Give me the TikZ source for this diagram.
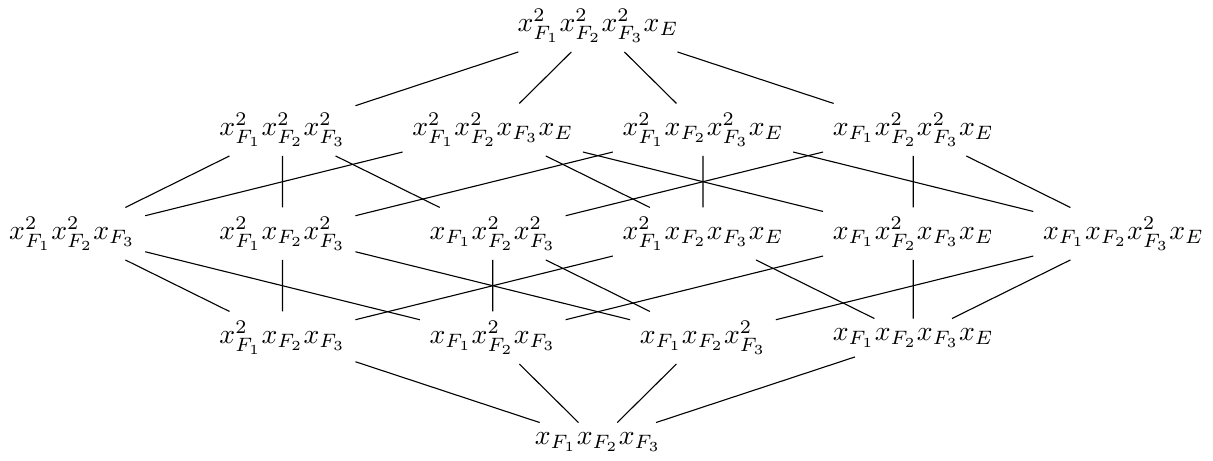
\documentclass[tikz,border=0pt]{standalone}
\usepackage{amsmath,amssymb}
\usepackage{tikz}

\begin{document}
\begin{tikzpicture}[x=2.668cm,y=1.32cm]
  % top
  \node (top) at (2.5,4) {$x_{F_1}^2x_{F_2}^2x_{F_3}^2x_E$};
  % second row
  \node (u1) at (1,3) {$x_{F_1}^2x_{F_2}^2x_{F_3}^2$};
  \node (u2) at (2,3) {$x_{F_1}^2x_{F_2}^2x_{F_3}x_E$};
  \node (u3) at (3,3) {$x_{F_1}^2x_{F_2}x_{F_3}^2x_E$};
  \node (u4) at (4,3) {$x_{F_1}x_{F_2}^2x_{F_3}^2x_E$};
  % middle row
  \node (m1) at (0,2) {$x_{F_1}^2x_{F_2}^2x_{F_3}$};
  \node (m2) at (1,2) {$x_{F_1}^2x_{F_2}x_{F_3}^2$};
  \node (m3) at (2,2) {$x_{F_1}x_{F_2}^2x_{F_3}^2$};
  \node (m4) at (3,2) {$x_{F_1}^2x_{F_2}x_{F_3}x_E$};
  \node (m5) at (4,2) {$x_{F_1}x_{F_2}^2x_{F_3}x_E$};
  \node (m6) at (5,2) {$x_{F_1}x_{F_2}x_{F_3}^2x_E$};
  % fourth row
  \node (l1) at (1,1) {$x_{F_1}^2x_{F_2}x_{F_3}$};
  \node (l2) at (2,1) {$x_{F_1}x_{F_2}^2x_{F_3}$};
  \node (l3) at (3,1) {$x_{F_1}x_{F_2}x_{F_3}^2$};
  \node (l4) at (4,1) {$x_{F_1}x_{F_2}x_{F_3}x_E$};
  % bottom
  \node (bot) at (2.5,0) {$x_{F_1}x_{F_2}x_{F_3}$};

  \draw (top) -- (u1) (top) -- (u2) (top) -- (u3) (top) -- (u4);
  \draw (u1) -- (m1) (u1) -- (m2) (u1) -- (m3);
  \draw (u2) -- (m1) (u2) -- (m4) (u2) -- (m5);
  \draw (u3) -- (m2) (u3) -- (m4) (u3) -- (m6);
  \draw (u4) -- (m3) (u4) -- (m5) (u4) -- (m6);
  \draw (m1) -- (l1) (m1) -- (l2);
  \draw (m2) -- (l1) (m2) -- (l3);
  \draw (m3) -- (l2) (m3) -- (l3);
  \draw (m4) -- (l1) (m4) -- (l4);
  \draw (m5) -- (l2) (m5) -- (l4);
  \draw (m6) -- (l3) (m6) -- (l4);
  \draw (l1) -- (bot) (l2) -- (bot) (l3) -- (bot) (l4) -- (bot);
\end{tikzpicture}
\end{document}
